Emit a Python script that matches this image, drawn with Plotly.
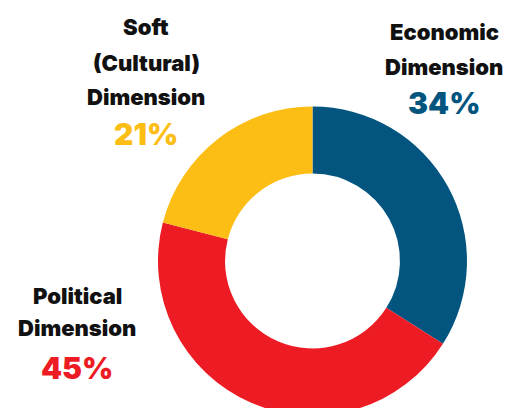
import plotly.graph_objects as go

# Share of each dimension (percent)
dimensions = ["Economic Dimension", "Political Dimension", "Soft (Cultural) Dimension"]
shares = [34, 45, 21]
colors = ["#03557f", "#ed1c24", "#fcbd14"]

# Label text: heading lines and the percentage shown under each heading
heading_lines = [["Economic", "Dimension"], ["Political", "Dimension"], ["Soft", "(Cultural)", "Dimension"]]
pct_labels = [f"{v}%" for v in shares]

W, H = 511, 420


def px(x, y):
    """Pixel position (from top-left) to paper coordinates."""
    return x / W, (H - y) / H


fig = go.Figure()

cx, cy, r = 312.5, 261, 154.5
x0, y0 = px(cx - r, cy + r)
x1, y1 = px(cx + r, cy - r)
fig.add_trace(go.Pie(
    labels=dimensions,
    values=shares,
    sort=False,
    direction="clockwise",
    rotation=0,
    hole=0.566,
    marker=dict(colors=colors, line=dict(width=0)),
    textinfo="none",
    hoverinfo="label+percent",
    showlegend=False,
    domain=dict(x=[x0, x1], y=[y0, y1]),
))

# Label block anchors: (centre x, y of each heading line, y of percentage)
blocks = [
    (444, [32, 67], 103),
    (77, [296, 328], 368),
    (146, [27, 63, 97], 134),
]

head_font = dict(family="Inter, Roboto, sans-serif", size=22, color="#111111", weight=900)
for (bx, line_ys, pct_y), lines, pct, col in zip(blocks, heading_lines, pct_labels, colors):
    for text, ly in zip(lines, line_ys):
        ax, ay = px(bx, ly)
        fig.add_annotation(x=ax, y=ay, xref="paper", yref="paper", text=text,
                           showarrow=False, xanchor="center", yanchor="middle",
                           font=head_font)
    ax, ay = px(bx, pct_y)
    fig.add_annotation(x=ax, y=ay, xref="paper", yref="paper", text=pct,
                       showarrow=False, xanchor="center", yanchor="middle",
                       font=dict(family="Inter, Roboto, sans-serif", size=30, color=col, weight=900))

fig.update_layout(
    width=W, height=H,
    margin=dict(l=0, r=0, t=0, b=0),
    paper_bgcolor="white",
    plot_bgcolor="white",
)

fig.write_html(
    "out.html",
    post_script="document.documentElement.style.overflow='hidden';document.body.style.overflow='hidden';document.body.style.margin='0';",
)
